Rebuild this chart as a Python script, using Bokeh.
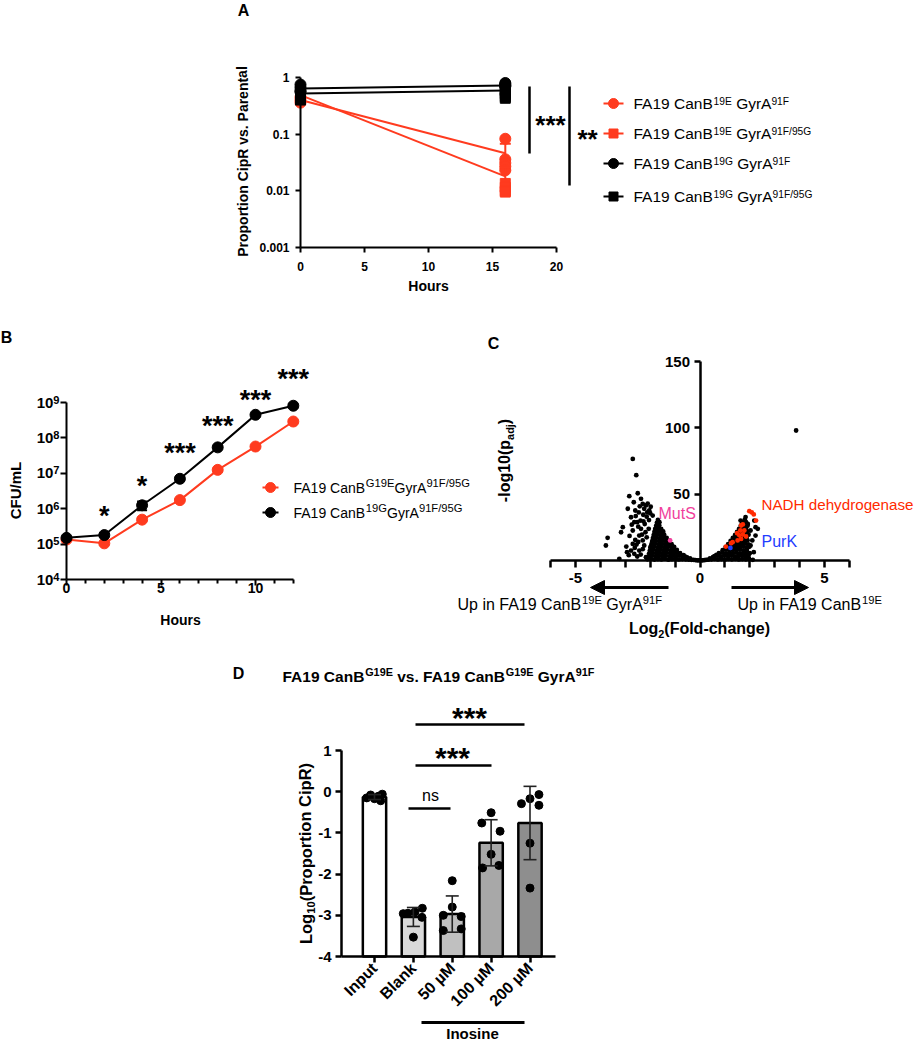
import math
from bokeh.plotting import figure
from bokeh.models import (Range1d, LinearAxis, LogAxis, LinearScale, LogScale,
                          FixedTicker, ColumnDataSource, Arrow, NormalHead)
from bokeh.core.properties import value, field
from bokeh.embed import file_html
from bokeh.resources import INLINE

# ============================ DATA ============================
# ---- Panel A : proportion CipR vs parental (log axis) ----
A_TIME = [0, 16]
A_RC_MEAN = [0.40, 0.046]      # FA19 CanB19E GyrA91F
A_RS_MEAN = [0.49, 0.018]      # FA19 CanB19E GyrA91F/95G
A_BC_MEAN = [0.64, 0.72]       # FA19 CanB19G GyrA91F
A_BS_MEAN = [0.52, 0.59]       # FA19 CanB19G GyrA91F/95G
A_RC_SD = [0.05, 0.022]
A_RS_SD = [0.05, 0.008]
A_BC_SD = [0.08, 0.05]
A_BS_SD = [0.08, 0.08]
A_RC_PTS_0 = [0.45, 0.40, 0.36]
A_RC_PTS_16 = [0.083, 0.036, 0.031, 0.027, 0.023]
A_RS_PTS_0 = [0.55, 0.48, 0.44]
A_RS_PTS_16 = [0.0135, 0.0115, 0.010, 0.0095]
A_BC_PTS_0 = [0.75, 0.66, 0.58, 0.56]
A_BC_PTS_16 = [0.80, 0.76, 0.72, 0.70]
A_BS_PTS_0 = [0.60, 0.52, 0.45, 0.40]
A_BS_PTS_16 = [0.64, 0.58, 0.52, 0.46, 0.43]
A_XTICKS = [0, 5, 10, 15, 20]
A_YTICKS = [0.001, 0.01, 0.1, 1]
A_YLABELS = ["0.001", "0.01", "0.1", "1"]
A_LEGEND = [
    [("FA19 CanB", "n"), ("19E", "sup"), (" GyrA", "n"), ("91F", "sup")],
    [("FA19 CanB", "n"), ("19E", "sup"), (" GyrA", "n"), ("91F/95G", "sup")],
    [("FA19 CanB", "n"), ("19G", "sup"), (" GyrA", "n"), ("91F", "sup")],
    [("FA19 CanB", "n"), ("19G", "sup"), (" GyrA", "n"), ("91F/95G", "sup")],
]

# ---- Panel B : growth curves (CFU/mL) ----
B_TIME = [0, 2, 4, 6, 8, 10, 12]
B_RED = [1.35e5, 1.05e5, 4.9e5, 1.75e6, 1.25e7, 5.7e7, 2.9e8]
B_BLACK = [1.5e5, 1.8e5, 1.25e6, 7.0e6, 5.4e7, 4.5e8, 8.1e8]
B_RED_SD = [1.2e4, 1.0e4, 5e4, 1.6e5, 1.1e6, 5e6, 2.5e7]
B_BLACK_SD = [1.5e4, 2.0e4, 3.4e5, 8e5, 6e6, 4e7, 9e7]
B_STARS = ["", "*", "*", "***", "***", "***", "***"]
B_XTICKS = [0, 5, 10]
B_XMINOR = [1, 2, 3, 4, 6, 7, 8, 9, 11, 12]
B_YTICKS = [1e4, 1e5, 1e6, 1e7, 1e8, 1e9]
B_YLABELS = [("10", "4"), ("10", "5"), ("10", "6"), ("10", "7"), ("10", "8"), ("10", "9")]
B_LEGEND = [
    [("FA19 CanB", "n"), ("G19E", "sup"), ("GyrA", "n"), ("91F/95G", "sup")],
    [("FA19 CanB", "n"), ("19G", "sup"), ("GyrA", "n"), ("91F/95G", "sup")],
]

# ---- Panel C : volcano plot (log2 fold change, -log10 padj) ----
C_BLACK = [
    # left dense core
    (-2.11, 0.9), (-1.97, 1.3), (-1.83, 0.7), (-1.69, 1.1), (-1.55, 0.8), (-1.41, 1.4), (-1.27, 0.6),
    (-1.13, 1.0), (-0.99, 1.2), (-0.85, 0.8), (-0.71, 1.1), (-0.57, 0.9), (-0.45, 0.7), (-0.34, 0.5),
    (-2.07, 3.1), (-1.93, 3.6), (-1.79, 3.0), (-1.65, 3.4), (-1.51, 3.2), (-1.37, 3.7), (-1.23, 3.1),
    (-1.09, 3.5), (-0.95, 3.3), (-0.81, 3.6), (-0.69, 3.2), (-0.59, 2.9),
    (-2.04, 5.4), (-1.90, 5.9), (-1.76, 5.3), (-1.62, 5.8), (-1.48, 5.5), (-1.34, 6.0), (-1.20, 5.4),
    (-1.06, 5.7), (-0.93, 5.9), (-0.80, 5.5),
    (-2.01, 7.7), (-1.87, 8.2), (-1.73, 7.6), (-1.59, 8.1), (-1.45, 7.8), (-1.31, 8.3), (-1.17, 7.7),
    (-1.04, 8.0), (-0.93, 7.9),
    (-1.98, 10.0), (-1.84, 10.5), (-1.70, 9.9), (-1.56, 10.4), (-1.42, 10.1), (-1.28, 10.6),
    (-1.14, 10.0), (-1.04, 10.3),
    (-1.95, 12.3), (-1.81, 12.8), (-1.67, 12.2), (-1.53, 12.7), (-1.39, 12.4), (-1.25, 12.9), (-1.14, 12.3),
    (-1.92, 14.6), (-1.78, 15.1), (-1.64, 14.5), (-1.50, 15.0), (-1.36, 14.7), (-1.24, 15.0),
    (-1.89, 16.9), (-1.75, 17.4), (-1.61, 16.8), (-1.47, 17.3), (-1.34, 17.0),
    (-1.86, 19.2), (-1.72, 19.7), (-1.58, 19.1), (-1.44, 19.5),
    (-1.83, 21.5), (-1.69, 22.0), (-1.56, 21.4), (-1.48, 21.9),
    (-1.80, 23.8), (-1.67, 24.3), (-1.56, 23.9),
    (-1.76, 26.1), (-1.64, 26.6), (-1.73, 28.4), (-1.63, 28.9), (-1.69, 30.6),
    # right dense core
    (0.33, 0.6), (0.46, 0.9), (0.59, 1.2), (0.72, 0.8), (0.86, 1.1), (1.00, 0.7), (1.14, 1.3),
    (1.28, 0.9), (1.42, 1.2), (1.56, 0.8), (1.70, 1.1), (1.84, 0.9), (1.97, 1.2),
    (0.58, 3.2), (0.71, 3.6), (0.84, 3.1), (0.98, 3.5), (1.12, 3.3), (1.26, 3.7), (1.40, 3.0),
    (1.54, 3.4), (1.68, 3.6), (1.82, 3.2), (1.95, 3.5),
    (0.76, 5.5), (0.90, 5.9), (1.04, 5.4), (1.18, 5.8), (1.32, 5.6), (1.46, 6.0), (1.60, 5.3),
    (1.74, 5.7), (1.88, 5.9), (2.00, 5.5),
    (0.91, 7.8), (1.05, 8.2), (1.19, 7.7), (1.33, 8.1), (1.47, 7.9), (1.61, 8.3), (1.75, 7.6), (1.88, 8.0),
    (1.03, 10.1), (1.17, 10.5), (1.31, 10.0), (1.45, 10.4), (1.59, 10.2), (1.73, 10.6), (1.86, 9.9),
    (1.98, 10.3),
    (1.13, 12.4), (1.27, 12.8), (1.41, 12.3), (1.55, 12.7), (1.69, 12.5), (1.82, 12.9), (1.94, 12.2),
    (1.23, 14.7), (1.37, 15.1), (1.51, 14.6), (1.65, 15.0), (1.79, 14.8), (1.91, 15.2),
    (1.32, 17.0), (1.46, 17.4), (1.60, 16.9), (1.74, 17.3), (1.87, 17.1),
    (1.41, 19.3), (1.55, 19.7), (1.69, 19.2), (1.83, 19.6), (1.95, 19.4),
    (1.49, 21.6), (1.63, 22.0), (1.77, 21.5), (1.91, 21.9),
    (1.57, 23.9), (1.71, 24.3), (1.85, 23.8),
    (1.64, 26.2), (1.78, 26.6), (1.91, 26.1), (1.71, 28.5), (1.85, 28.9), (1.80, 30.8),
    # centre of the V
    (-0.26, 0.5), (-0.19, 0.3), (-0.12, 0.15), (-0.05, 0.05), (0.03, 0.05), (0.10, 0.1), (0.17, 0.25),
    (0.24, 0.5), (-0.52, 2.4), (-0.40, 1.6), (0.40, 1.5), (0.52, 2.5), (0.66, 4.2), (-0.66, 4.1),
    # left scattered genes
    (-2.70, 76.6), (-2.56, 64.3), (-2.50, 50.7), (-2.84, 48.5), (-2.66, 43.9), (-2.37, 46.5),
    (-2.30, 42.7), (-2.17, 41.5), (-2.10, 42.9), (-2.04, 37.7), (-2.24, 39.0), (-2.60, 37.7),
    (-2.90, 39.0), (-2.77, 32.6), (-2.39, 30.1), (-2.52, 28.9), (-2.64, 28.9), (-1.90, 33.9),
    (-2.00, 35.6), (-2.12, 36.2), (-2.06, 23.9), (-2.19, 21.3), (-2.70, 22.6), (-2.37, 23.9),
    (-3.10, 25.1), (-3.17, 21.3), (-3.71, 17.1), (-3.78, 11.3), (-2.44, 18.8), (-2.30, 15.1),
    (-2.77, 7.5), (-2.93, 6.3), (-2.64, 5.0), (-3.24, 1.3), (-2.44, 7.5), (-2.24, 11.3),
    (-2.17, 2.5), (-2.52, 3.0), (-2.86, 4.0), (-2.55, 12.0), (-2.22, 27.5), (-2.05, 30.5),
    (-2.28, 34.5), (-2.46, 36.2), (-1.99, 10.0), (-2.14, 17.5), (-2.33, 19.5), (-2.60, 15.5),
    (-2.48, 25.5), (-2.27, 29.5), (-2.58, 33.5), (-2.14, 33.0), (-1.98, 40.5), (-2.42, 40.8),
    (-2.74, 27.0), (-2.83, 18.5), (-2.62, 9.5), (-2.38, 4.5), (-2.96, 10.5), (-2.30, 8.5),
    (-2.48, 14.0), (-2.70, 12.5),
    # right scattered genes
    (3.86, 98.0), (1.76, 28.9), (1.92, 27.6), (2.03, 22.6), (2.23, 25.1), (2.10, 15.1), (2.16, 6.3),
    (1.96, 1.3), (2.03, 11.3), (2.23, 18.8), (1.83, 32.7), (1.63, 30.1), (2.18, 30.1), (2.32, 23.9),
    (2.12, 0.5),
]
C_NADH = [
    (1.98, 37.2), (2.08, 36.2), (2.16, 34.7), (2.25, 30.1), (1.65, 26.4), (1.72, 27.2), (1.78, 22.6),
    (1.62, 22.6), (1.49, 20.6), (1.58, 19.0), (1.72, 19.6), (1.85, 18.1), (1.65, 16.3), (1.51, 15.1),
    (1.31, 13.8), (1.25, 13.0), (1.04, 10.5),
]
C_MUTS = [(-1.20, 15.1)]
C_PURK = [(1.22, 9.5)]
C_XTICKS = [-6, -5, -4, -3, -2, -1, 0, 1, 2, 3, 4, 5, 6]
C_XLABELS = ["", "-5", "", "", "", "", "0", "", "", "", "", "5", ""]
C_YTICKS = [50, 100, 150]
C_YLABELS = ["50", "100", "150"]

# ---- Panel D : Log10(proportion CipR) with inosine ----
D_CATS = ["Input", "Blank", "50 \u00b5M", "100 \u00b5M", "200 \u00b5M"]
D_MEAN = [-0.13, -3.04, -2.97, -1.24, -0.76]
D_SD = [0.06, 0.23, 0.44, 0.56, 0.89]
D_POINTS = [
    [-0.15, -0.08, -0.17, -0.11, -0.06, -0.22],
    [-2.96, -2.95, -2.92, -2.83, -3.05, -3.53],
    [-2.16, -2.80, -3.00, -3.03, -3.37, -3.33],
    [-0.51, -0.76, -0.96, -1.52, -1.85, -1.79],
    [-0.07, -0.17, -0.29, -0.33, -1.25, -2.34],
]
D_YTICKS = [-4, -3, -2, -1, 0, 1]
D_YLABELS = ["-4", "-3", "-2", "-1", "0", "1"]
D_SIG = ["ns", "***", "***"]

# ============================ STYLE / LAYOUT ============================
FONT = "Liberation Sans"
RED = "#ff3b1f"
C_RED = "#ff2a00"
C_PINK = "#f0409c"
C_BLUE = "#1f3dff"
D_FILLS = ["#ffffff", "#d9d9d9", "#c0c0c0", "#a8a8a8", "#8e8e8e"]
D_JITTER = [
    [-0.20, -0.10, 0.00, 0.10, 0.20, 0.16],
    [-0.26, -0.14, 0.04, 0.23, 0.22, 0.00],
    [0.00, 0.00, -0.23, 0.23, -0.23, 0.23],
    [0.00, -0.24, 0.23, 0.00, -0.22, 0.20],
    [0.23, 0.00, -0.22, 0.23, 0.00, 0.00],
]

W, H = 915, 1042          # canvas size (pixel coordinates below are canvas coordinates)
PX0, PY0 = 0, 0


def _lin(d0, p0, d1, p1, lo, hi):
    s = (p1 - p0) / (d1 - d0)
    return d0 + (lo - p0) / s, d0 + (hi - p0) / s


def xr_lin(d0, p0, d1, p1):
    return Range1d(*_lin(d0, p0, d1, p1, PX0, PX0 + W))


def yr_lin(d0, p0, d1, p1):
    return Range1d(*_lin(d0, p0, d1, p1, PY0 + H, PY0))


def yr_log(d0, p0, d1, p1):
    a, b = _lin(math.log10(d0), p0, math.log10(d1), p1, PY0 + H, PY0)
    return Range1d(10 ** a, 10 ** b)


def px2d(d0, p0, d1, p1, px):
    return d0 + (px - p0) * (d1 - d0) / (p1 - p0)


def d2px_log(d0, p0, d1, p1, v):
    return p0 + (math.log10(v) - math.log10(d0)) * (p1 - p0) / (math.log10(d1) - math.log10(d0))


# pixel anchors of every panel's axes
A_X = (0, 300, 20, 556)
A_Y = (1, 77, 0.001, 247)
B_X = (0, 66, 10, 255)
B_Y = (1e9, 402, 1e4, 579)
C_X = (-5, 575, 5, 824)
C_Y = (0, 560, 150, 361)
D_X = (0, 374, 4, 529.5)
D_Y = (1, 750, -4, 956)

p = figure(width=W, height=H, output_backend="svg", toolbar_location=None, tools="",
           x_axis_location=None, y_axis_location=None,
           x_range=Range1d(PX0, PX0 + W), y_range=Range1d(PY0 + H, PY0),
           min_border=0, min_border_left=0, min_border_right=0,
           min_border_top=0, min_border_bottom=0, outline_line_color=None,
           background_fill_color="white", border_fill_color="white")
p.grid.visible = False

p.extra_x_ranges = {"ax": xr_lin(*A_X), "bx": xr_lin(*B_X), "cx": xr_lin(*C_X), "dx": xr_lin(*D_X)}
p.extra_y_ranges = {"ay": yr_log(*A_Y), "by": yr_log(*B_Y), "cy": yr_lin(*C_Y), "dy": yr_lin(*D_Y)}
p.extra_x_scales = {k: LinearScale() for k in ["ax", "bx", "cx", "dx"]}
p.extra_y_scales = {"ay": LogScale(), "by": LogScale(), "cy": LinearScale(), "dy": LinearScale()}


def axis(cls, side, xr, yr, loc, bounds, ticks, labels=None, minor=None, size=12,
         tick_out=5, minor_out=0, lw=2.0, standoff=5, orient="horizontal"):
    ax = cls(x_range_name=xr, y_range_name=yr, fixed_location=loc, bounds=bounds,
             ticker=FixedTicker(ticks=ticks, minor_ticks=minor or []))
    ax.axis_line_width = lw
    ax.axis_line_color = "black"
    ax.major_tick_line_width = lw
    ax.minor_tick_line_width = lw
    ax.major_tick_in = 0
    ax.major_tick_out = tick_out
    ax.minor_tick_in = 0
    ax.minor_tick_out = minor_out
    ax.major_label_text_font = FONT
    ax.major_label_text_font_style = "bold"
    ax.major_label_text_font_size = f"{size}px"
    ax.major_label_text_color = "black"
    ax.major_label_standoff = standoff
    ax.major_label_orientation = orient
    if labels is not None:
        ax.major_label_overrides = {t: l for t, l in zip(ticks, labels)}
    p.add_layout(ax, side)
    return ax


# ---------------- text helper (rich text with super/sub-scripts) ----------------
REG = {' ': 278, '(': 333, ')': 333, '*': 389, '-': 333, '.': 278, '/': 278,
       'A': 667, 'B': 667, 'C': 722, 'D': 722, 'E': 667, 'F': 611, 'G': 778, 'H': 722, 'I': 278,
       'K': 667, 'L': 556, 'M': 833, 'N': 722, 'O': 778, 'P': 667, 'R': 722, 'S': 667, 'U': 722,
       'a': 556, 'b': 556, 'c': 500, 'd': 556, 'e': 556, 'f': 278, 'g': 556, 'h': 556, 'i': 222,
       'j': 222, 'k': 500, 'l': 222, 'm': 833, 'n': 556, 'o': 556, 'p': 556, 'r': 333, 's': 500,
       't': 278, 'u': 556, 'v': 500, 'y': 500}
BOLD = {' ': 278, '(': 333, ')': 333, '*': 389, '-': 333, '.': 278, '/': 278,
        'A': 722, 'B': 722, 'C': 722, 'D': 722, 'E': 667, 'F': 611, 'G': 778, 'H': 722, 'I': 278,
        'L': 611, 'M': 833, 'N': 722, 'O': 778, 'P': 667, 'R': 722, 'S': 667, 'U': 722,
        'a': 556, 'b': 611, 'c': 556, 'd': 611, 'e': 556, 'f': 333, 'g': 611, 'h': 611, 'i': 278,
        'j': 278, 'k': 556, 'l': 278, 'm': 889, 'n': 611, 'o': 611, 'p': 611, 'r': 389, 's': 556,
        't': 333, 'u': 611, 'v': 556, 'y': 556}

TXT = dict(x=[], y=[], text=[], fs=[], style=[], color=[], angle=[])


def put(parts, x, y, size, bold=False, color="black", align="left", angle=0.0,
        dy=0.0, small=0.68, rise=0.27, drop=0.32):
    """x, y: visual centre line of the capitals (anchor uses 'middle' baseline)."""
    if isinstance(parts, str):
        parts = [(parts, "n")]
    tbl = BOLD if bold else REG
    segs = []
    for s, kind in parts:
        fs = size if kind == "n" else size * small
        w = sum(tbl.get(ch, 556) for ch in s) * fs / 1000.0
        segs.append((s, kind, fs, w))
    total = sum(sg[3] for sg in segs)
    pos = {"left": 0.0, "center": -total / 2.0, "right": -total}[align]
    ux, uy = math.cos(angle), -math.sin(angle)
    vx, vy = math.sin(angle), math.cos(angle)
    for s, kind, fs, w in segs:
        dv = dy * size
        if kind == "sup":
            dv -= rise * size
        elif kind == "sub":
            dv += drop * size
        lead = (len(s) - len(s.lstrip(" "))) * tbl[' '] * fs / 1000.0
        st = s.strip(" ")
        pp = pos + lead
        TXT["x"].append(x + ux * pp + vx * dv)
        TXT["y"].append(y + uy * pp + vy * dv)
        TXT["text"].append(st)
        TXT["fs"].append(f"{fs:.2f}px")
        TXT["style"].append("bold" if bold else "normal")
        TXT["color"].append(color)
        TXT["angle"].append(angle)
        pos += w


def stars(s, x, y, size=26):
    put(s, x, y, size, bold=True, align="center", dy=0.22)


# ============================ PANEL A ============================
axis(LogAxis, "left", "ax", "ay", 0, (0.001, 1), A_YTICKS, A_YLABELS, size=12, tick_out=5, standoff=6)
axis(LinearAxis, "below", "ax", "ay", 0.001, (0, 20), A_XTICKS, [str(t) for t in A_XTICKS],
     size=12, tick_out=5, standoff=9)

A_SERIES = [
    (A_RC_MEAN, A_RC_SD, A_RC_PTS_0, A_RC_PTS_16, RED, "circle", 11),
    (A_RS_MEAN, A_RS_SD, A_RS_PTS_0, A_RS_PTS_16, RED, "square", 10),
    (A_BC_MEAN, A_BC_SD, A_BC_PTS_0, A_BC_PTS_16, "black", "circle", 11),
    (A_BS_MEAN, A_BS_SD, A_BS_PTS_0, A_BS_PTS_16, "black", "square", 10),
]
for group in (A_SERIES[:2], A_SERIES[2:]):
    for mean, sd, p0, p16, col, mk, sz in group:
        p.line(A_TIME, mean, x_range_name="ax", y_range_name="ay", line_color=col, line_width=2)
    for mean, sd, p0, p16, col, mk, sz in group:
        lo = [m - d for m, d in zip(mean, sd)]
        hi = [m + d for m, d in zip(mean, sd)]
        p.segment(A_TIME, lo, A_TIME, hi, x_range_name="ax", y_range_name="ay", line_color=col, line_width=2)
        p.scatter(A_TIME + A_TIME, lo + hi, marker="dash", size=11, line_color=col, line_width=2,
                  x_range_name="ax", y_range_name="ay")
        xs = [A_TIME[0]] * len(p0) + [A_TIME[1]] * len(p16)
        p.scatter(xs, p0 + p16, marker=mk, size=sz, fill_color=col, line_color=col,
                  x_range_name="ax", y_range_name="ay")

put("A", 243, 10, 16, bold=True, align="center")
put("Proportion CipR vs. Parental", 242, 161, 14, bold=True, align="center", angle=math.pi / 2)
put("Hours", 428, 285, 14, bold=True, align="center")
p.segment([529, 569], [86, 86], [529, 569], [153, 185], line_color="black", line_width=2.5)
stars("***", 550, 119)
stars("**", 587, 133)
A_LEG_Y = [103, 133, 163, 196]
for (mean, sd, p0, p16, col, mk, sz), ly, parts in zip(A_SERIES, A_LEG_Y, A_LEGEND):
    p.line([603, 623], [ly, ly], line_color=col, line_width=2)
    p.scatter([613], [ly], marker=mk, size=sz - 1, fill_color=col, line_color=col)
    put(parts, 633, ly, 15.5, small=0.66, rise=0.16)

# ============================ PANEL B ============================
axis(LogAxis, "left", "bx", "by", 0, (1e4, 1e9), B_YTICKS, [""] * len(B_YTICKS), size=15, tick_out=6, standoff=1)
axis(LinearAxis, "below", "bx", "by", 1e4, (0, 12), B_XTICKS, [str(t) for t in B_XTICKS],
     minor=B_XMINOR, size=14, tick_out=6, minor_out=4, standoff=-3)
for tv, (base, expo) in zip(B_YTICKS, B_YLABELS):
    put([(base, "n"), (expo, "sup")], 59, d2px_log(*B_Y, tv), 15, bold=True, align="right",
        small=0.74, rise=0.2)

for vals, sd, col in [(B_RED, B_RED_SD, RED), (B_BLACK, B_BLACK_SD, "black")]:
    p.line(B_TIME, vals, x_range_name="bx", y_range_name="by", line_color=col, line_width=2)
    lo = [v - d for v, d in zip(vals, sd)]
    hi = [v + d for v, d in zip(vals, sd)]
    p.segment(B_TIME, lo, B_TIME, hi, x_range_name="bx", y_range_name="by", line_color=col, line_width=2)
    p.scatter(B_TIME + B_TIME, lo + hi, marker="dash", size=10, line_color=col, line_width=2,
              x_range_name="bx", y_range_name="by")
    p.scatter(B_TIME, vals, marker="circle", size=11, fill_color=col, line_color=col,
              x_range_name="bx", y_range_name="by")

B_STAR_PY = [0, 510, 480, 447, 420, 394, 373]
for t, s, sy in zip(B_TIME, B_STARS, B_STAR_PY):
    if s:
        sx = B_X[1] + (t - B_X[0]) * (B_X[3] - B_X[1]) / (B_X[2] - B_X[0])
        stars(s, sx, sy, 27)

put("B", 6, 337, 16, bold=True, align="center")
put("CFU/mL", 15, 490, 15, bold=True, align="center", angle=math.pi / 2)
put("Hours", 180, 619, 14, bold=True, align="center")
B_LEG_Y = [487, 512]
for col, ly, parts in zip([RED, "black"], B_LEG_Y, B_LEGEND):
    p.line([262, 278], [ly, ly], line_color=col, line_width=2)
    p.scatter([270], [ly], marker="circle", size=10, fill_color=col, line_color=col)
    put(parts, 293, ly, 14, small=0.8, rise=0.29)

# ============================ PANEL C ============================
axis(LinearAxis, "left", "cx", "cy", 0, (0, 150), C_YTICKS, C_YLABELS, size=15, tick_out=6, lw=2.5, standoff=4)
axis(LinearAxis, "below", "cx", "cy", 0, (-6, 6), C_XTICKS, C_XLABELS, size=15, tick_out=7, lw=2.5, standoff=5)

for pts, col in [(C_BLACK, "black"), (C_NADH, C_RED), (C_MUTS, C_PINK), (C_PURK, C_BLUE)]:
    p.scatter([q[0] for q in pts], [q[1] for q in pts], marker="circle", size=4.8,
              fill_color=col, line_color=None, x_range_name="cx", y_range_name="cy")

put("C", 493, 343, 16, bold=True, align="center")
put([("-log10(p", "n"), ("adj", "sub"), (")", "n")], 504, 460, 16, bold=True, align="center",
    angle=math.pi / 2)
put([("Log", "n"), ("2", "sub"), ("(Fold-change)", "n")], 699, 628, 16, bold=True, align="center")
put([("Up in FA19 CanB", "n"), ("19E", "sup"), (" GyrA", "n"), ("91F", "sup")], 457, 604, 16,
    small=0.7, rise=0.26)
put([("Up in FA19 CanB", "n"), ("19E", "sup")], 737, 604, 16, small=0.7, rise=0.26)
put("NADH dehydrogenase", 761, 504, 15.2, color=C_RED)
put("MutS", 658, 513, 16, color=C_PINK)
put("PurK", 761, 541, 16, color=C_BLUE)
for xs_, xe_ in [(668, 590), (731, 808)]:
    p.add_layout(Arrow(end=NormalHead(size=14, fill_color="black", line_color="black", line_width=1),
                       x_start=xs_, y_start=587, x_end=xe_, y_end=587,
                       line_color="black", line_width=3))

# ============================ PANEL D ============================
D_IDX = list(range(len(D_CATS)))
d_left = px2d(D_X[0], D_X[1], D_X[2], D_X[3], 341)
d_right = px2d(D_X[0], D_X[1], D_X[2], D_X[3], 555)
axis(LinearAxis, "left", "dx", "dy", d_left, (D_YTICKS[0], D_YTICKS[-1]), D_YTICKS, D_YLABELS,
     size=15, tick_out=6, lw=2.5, standoff=4)
axis(LinearAxis, "below", "dx", "dy", D_YTICKS[0], (d_left, d_right), D_IDX, D_CATS,
     size=16, tick_out=6, lw=2.5, standoff=3, orient=math.pi / 4)

p.vbar(x=D_IDX, top=D_MEAN, bottom=D_YTICKS[0], width=0.6, fill_color=D_FILLS, line_color="black",
       line_width=2.5, x_range_name="dx", y_range_name="dy")
for i, (pts, jit) in enumerate(zip(D_POINTS, D_JITTER)):
    p.scatter([i + j for j in jit], pts, marker="circle", size=8, fill_color="black", line_color="black",
              x_range_name="dx", y_range_name="dy")
d_lo = [m - s for m, s in zip(D_MEAN, D_SD)]
d_hi = [m + s for m, s in zip(D_MEAN, D_SD)]
p.segment(D_IDX, d_lo, D_IDX, d_hi, line_color="#222222", line_width=1.6, x_range_name="dx", y_range_name="dy")
p.scatter(D_IDX + D_IDX, d_lo + d_hi, marker="dash", size=13, line_color="#222222", line_width=1.6,
          x_range_name="dx", y_range_name="dy")

put("D", 238, 673, 16, bold=True, align="center")
put([("FA19 CanB", "n"), ("G19E", "sup"), (" vs. FA19 CanB", "n"), ("G19E", "sup"),
     (" GyrA", "n"), ("91F", "sup")], 282, 676, 15.5, bold=True, small=0.7, rise=0.3)
put([("Log", "n"), ("10", "sub"), ("(Proportion CipR)", "n")], 305, 853, 16.5, bold=True,
    align="center", angle=math.pi / 2)
p.segment([408, 415, 415], [808, 765, 724], [450, 491, 524], [808, 765, 724], line_color="black", line_width=2.5)
put(D_SIG[0], 430, 793, 16, align="center", dy=0.1)
stars(D_SIG[1], 452, 750, 30)
stars(D_SIG[2], 469, 710, 30)
p.segment([421], [1022], [524], [1022], line_color="black", line_width=3)
put("Inosine", 472, 1033, 15, bold=True, align="center")

src = ColumnDataSource(TXT)
p.text(x="x", y="y", text="text", source=src, text_font=value(FONT), text_font_size=field("fs"),
       text_font_style=field("style"), text_color=field("color"), angle=field("angle"),
       text_align="left", text_baseline="middle")

open("out.html", "w").write(file_html(p, INLINE))
